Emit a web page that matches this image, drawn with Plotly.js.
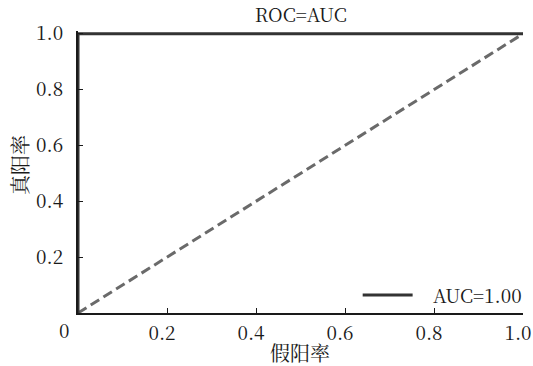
<!DOCTYPE html>
<html><head><meta charset="utf-8">
<script src="https://cdn.plot.ly/plotly-3.0.1.min.js"></script>
<style>
html,body{margin:0;padding:0;background:#fff}
#c{width:533px;height:366px}
</style>
</head><body><div id="c"></div>
<script>
const rocFpr = [0, 0, 1];
const rocTpr = [0, 1, 1];
const diagX = [0, 1];
const diagY = [0, 1];
const xTickVals = [0, 0.2, 0.4, 0.6, 0.8, 1.0];
const xTickText = ['0', '0.2', '0.4', '0.6', '0.8', '1.0'];
const yTickVals = [0.2, 0.4, 0.6, 0.8, 1.0];
const yTickText = ['0.2', '0.4', '0.6', '0.8', '1.0'];
const legendLabel = 'AUC=1.00';
const chartTitle = 'ROC=AUC';
const xTitle = '假阳率';
const yTitle = '真阳率';

const serif = 'Noto Serif CJK SC, Liberation Serif';
const cjk = 'Noto Serif CJK SC';
const W = 445.5, H = 281.8;
const px = v => (v - 78) / W;
const py = v => (313 - v) / H;
const ink = '#1a1a1a';

const traces = [
  {x: diagX, y: diagY, mode: 'lines', showlegend: false,
   line: {color: '#6a6a6a', width: 3, dash: '10px,5px'}, hoverinfo: 'skip'},
  {x: rocFpr, y: rocTpr, mode: 'lines', name: legendLabel, showlegend: false,
   line: {color: '#333333', width: 3}}
];

const layout = {
  width: 533, height: 366,
  margin: {l: 78, r: 9.5, t: 31.2, b: 53, pad: 0},
  paper_bgcolor: '#fff', plot_bgcolor: '#fff',
  font: {family: serif, size: 19, color: ink},
  title: {text: chartTitle, font: {family: serif, size: 19, color: ink},
          x: px(301), xref: 'paper', xanchor: 'center', y: 1 - 15.5/366, yanchor: 'middle'},
  xaxis: {range: [0, 1.0], tickvals: xTickVals.slice(1), ticktext: xTickText.slice(1),
          showgrid: false, zeroline: false, showline: true, linecolor: ink, linewidth: 2,
          ticks: 'inside', ticklen: 5, tickcolor: ink, tickwidth: 1,
          ticklabelshift: -5, ticklabeloverflow: 'allow', ticklabelstandoff: 2,
          tickfont: {family: serif, size: 19, color: ink}},
  yaxis: {range: [0, 1.01], tickvals: yTickVals, ticktext: yTickText,
          showgrid: false, zeroline: false, showline: true, linecolor: ink, linewidth: 2,
          ticks: 'inside', ticklen: 5, tickcolor: ink, tickwidth: 1,
          ticklabelstandoff: 9, ticklabeloverflow: 'allow',
          tickfont: {family: serif, size: 19, color: ink}},
  showlegend: false,
  shapes: [
    {type: 'line', xref: 'paper', yref: 'paper', x0: px(363), x1: px(413), y0: py(295), y1: py(295),
     line: {color: '#333333', width: 3}}
  ],
  annotations: [
    {text: legendLabel, xref: 'paper', yref: 'paper', x: px(431), y: py(295),
     xanchor: 'left', yanchor: 'middle', showarrow: false,
     font: {family: serif, size: 19, color: ink}},
    {text: xTickText[0], xref: 'paper', yref: 'paper', x: px(64), y: py(329),
     xanchor: 'center', yanchor: 'middle', showarrow: false,
     font: {family: serif, size: 19, color: ink}},
    {text: xTitle, xref: 'paper', yref: 'paper', x: px(300), y: py(352),
     xanchor: 'center', yanchor: 'middle', showarrow: false,
     font: {family: cjk, size: 20, color: ink}},
    {text: yTitle, xref: 'paper', yref: 'paper', x: px(20), y: py(165),
     xanchor: 'center', yanchor: 'middle', textangle: -90, showarrow: false,
     font: {family: cjk, size: 20, color: ink}}
  ]
};

Plotly.newPlot('c', traces, layout, {staticPlot: true, displayModeBar: false});
</script>
</body></html>
